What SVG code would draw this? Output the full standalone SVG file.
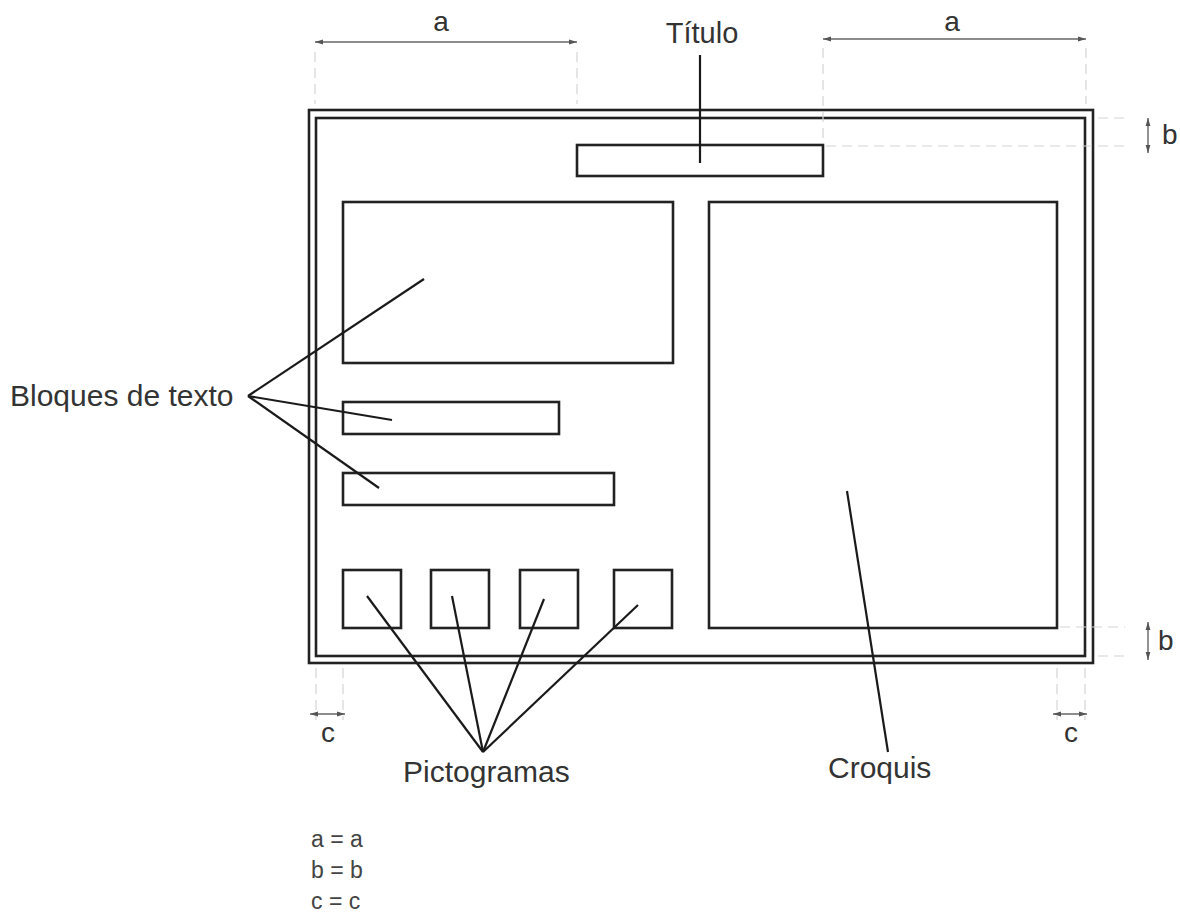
<svg xmlns="http://www.w3.org/2000/svg" width="1180" height="913" viewBox="0 0 1180 913">
<defs>
<style>
.box{fill:none;stroke:#222;stroke-width:2.6}
.lead{fill:none;stroke:#1a1a1a;stroke-width:2.2}
.dim{fill:none;stroke:#666;stroke-width:1.4}
.ext{fill:none;stroke:#d4d4d4;stroke-width:1.2;stroke-dasharray:10 6}
.lbl{font-family:"Liberation Sans",Arial,sans-serif;font-size:30px;fill:#333}
.sm{font-family:"Liberation Sans",Arial,sans-serif;font-size:23px;fill:#444}
</style>
<marker id="ah" viewBox="0 0 10 10" refX="10" refY="5" markerWidth="8" markerHeight="8" orient="auto-start-reverse" markerUnits="userSpaceOnUse">
<path d="M0,2 L10,5 L0,8 z" fill="#555"/>
</marker>
</defs>
<rect width="1180" height="913" fill="#fff"/>

<g id="frame">
<rect class="box" x="309" y="110" width="784" height="553"/>
<rect class="box" x="316" y="118" width="769" height="538"/>
</g>

<g id="titulo-box"><rect class="box" x="577" y="145" width="246" height="31"/></g>
<g id="texto1"><rect class="box" x="343" y="202" width="330" height="161"/></g>
<g id="texto2"><rect class="box" x="343" y="402" width="216" height="32"/></g>
<g id="texto3"><rect class="box" x="343" y="473" width="271" height="32"/></g>
<g id="croquis-box"><rect class="box" x="709" y="202" width="348" height="426"/></g>
<g id="picto1"><rect class="box" x="343" y="570" width="58" height="58"/></g>
<g id="picto2"><rect class="box" x="431" y="570" width="58" height="58"/></g>
<g id="picto3"><rect class="box" x="520" y="570" width="58" height="58"/></g>
<g id="picto4"><rect class="box" x="614" y="570" width="58" height="58"/></g>

<g id="dimensions">
<line class="ext" x1="315" y1="52" x2="315" y2="104"/>
<line class="ext" x1="577" y1="52" x2="577" y2="104"/>
<line class="ext" x1="823" y1="48" x2="823" y2="140"/>
<line class="ext" x1="1086" y1="48" x2="1086" y2="104"/>
<line class="dim" x1="315" y1="42" x2="577" y2="42" marker-start="url(#ah)" marker-end="url(#ah)"/>
<line class="dim" x1="823" y1="39" x2="1086" y2="39" marker-start="url(#ah)" marker-end="url(#ah)"/>
<line class="ext" x1="1098" y1="118" x2="1125" y2="118"/>
<line class="ext" x1="826" y1="146" x2="1125" y2="146"/>
<line class="dim" x1="1148" y1="118" x2="1148" y2="153" marker-start="url(#ah)" marker-end="url(#ah)"/>
<line class="ext" x1="1060" y1="627" x2="1125" y2="627"/>
<line class="ext" x1="1098" y1="656" x2="1125" y2="656"/>
<line class="dim" x1="1148" y1="622" x2="1148" y2="660" marker-start="url(#ah)" marker-end="url(#ah)"/>
<line class="ext" x1="316" y1="668" x2="316" y2="720"/>
<line class="ext" x1="343" y1="668" x2="343" y2="720"/>
<line class="dim" x1="310" y1="714" x2="345" y2="714" marker-start="url(#ah)" marker-end="url(#ah)"/>
<line class="ext" x1="1057" y1="668" x2="1057" y2="720"/>
<line class="ext" x1="1085" y1="668" x2="1085" y2="720"/>
<line class="dim" x1="1053" y1="714" x2="1087" y2="714" marker-start="url(#ah)" marker-end="url(#ah)"/>
</g>

<g id="connectors">
<line class="lead" x1="700" y1="55" x2="700" y2="163"/>
<line class="lead" x1="248" y1="396" x2="424" y2="279"/>
<line class="lead" x1="248" y1="396" x2="392" y2="420"/>
<line class="lead" x1="248" y1="396" x2="379" y2="488"/>
<line class="lead" x1="483" y1="752" x2="367" y2="596"/>
<line class="lead" x1="483" y1="752" x2="452" y2="596"/>
<line class="lead" x1="483" y1="752" x2="544" y2="599"/>
<line class="lead" x1="483" y1="752" x2="638" y2="605"/>
<line class="lead" x1="847" y1="491" x2="888" y2="752"/>
</g>

<g id="labels">
<text class="lbl" x="702" y="43" text-anchor="middle" style="font-size:29px">Título</text>
<text class="lbl" x="10" y="406">Bloques de texto</text>
<text class="lbl" x="403" y="782">Pictogramas</text>
<text class="lbl" x="828" y="778">Croquis</text>
<text class="lbl" x="441" y="31" text-anchor="middle" style="font-size:28px">a</text>
<text class="lbl" x="952" y="31" text-anchor="middle" style="font-size:28px">a</text>
<text class="lbl" x="1162" y="144" style="font-size:28px">b</text>
<text class="lbl" x="1158" y="650" style="font-size:28px">b</text>
<text class="lbl" x="328" y="742" text-anchor="middle" style="font-size:28px">c</text>
<text class="lbl" x="1071" y="742" text-anchor="middle" style="font-size:28px">c</text>
<text class="sm" x="311" y="847">a = a</text>
<text class="sm" x="311" y="878">b = b</text>
<text class="sm" x="311" y="909">c = c</text>
</g>
</svg>
